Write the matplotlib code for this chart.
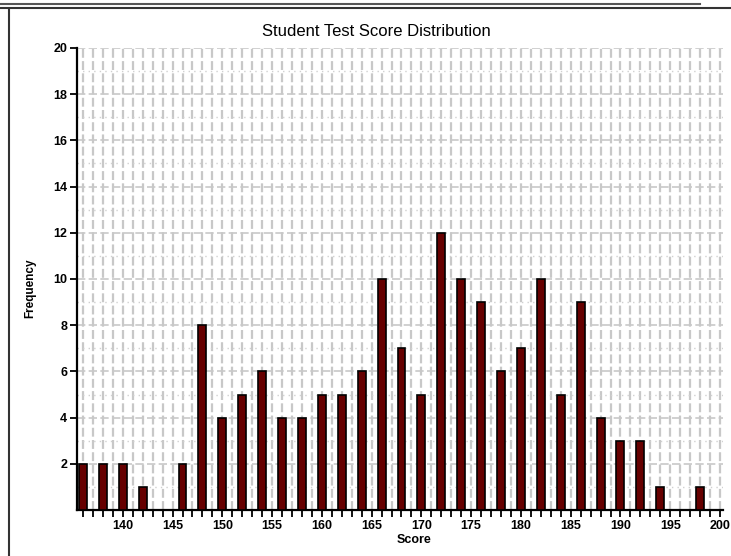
import numpy as np
import matplotlib
matplotlib.use('Agg')
import matplotlib.pyplot as plt
from matplotlib.lines import Line2D
from matplotlib.ticker import MultipleLocator

plt.rcParams['font.family'] = ['Liberation Sans', 'DejaVu Sans']

# ── Data ───────────────────────────────────────────────────────
scores = [136, 138, 140, 142, 144, 146, 148, 150, 152, 154, 156, 158,
          160, 162, 164, 166, 168, 170, 172, 174, 176, 178, 180, 182,
          184, 186, 188, 190, 192, 194, 196, 198]
frequency = [2, 2, 2, 1, 0, 2, 8, 4, 5, 6, 4, 4,
             5, 5, 6, 10, 7, 5, 12, 10, 9, 6, 7, 10,
             5, 9, 4, 3, 3, 1, 0, 1]
x_ticks = [140, 145, 150, 155, 160, 165, 170, 175, 180, 185, 190, 195, 200]
y_ticks = [2, 4, 6, 8, 10, 12, 14, 16, 18, 20]

# ── Plot ───────────────────────────────────────────────────────
fig = plt.figure(figsize=(7.31, 5.56), dpi=100)
ax = fig.add_axes([77 / 731, 46 / 556, 646 / 731, 462 / 556])

# grid: dashed verticals every unit, dashed horizontals at even, dotted at odd
for x in range(136, 201):
    ax.axvline(x, color='#c8c8c8', lw=1.6, ls=(0, (4, 1.5)), zorder=0)
for y in range(1, 21):
    if y % 2 == 0:
        ax.axhline(y, color='#c8c8c8', lw=1.2, ls=(0, (5, 2)), zorder=0)
    else:
        ax.axhline(y, color='#d0d0d0', lw=1.0, ls=(0, (1, 3)), zorder=0)

ax.bar(scores, frequency, width=0.8, color='#660000',
       edgecolor='black', linewidth=1.2, zorder=3)

ax.set_xlim(135.4, 200.3)
ax.set_ylim(0, 20)
ax.set_xticks(x_ticks)
ax.xaxis.set_minor_locator(MultipleLocator(1))
ax.set_yticks(y_ticks)

for s in ['top', 'right']:
    ax.spines[s].set_visible(False)
for s in ['left', 'bottom']:
    ax.spines[s].set_linewidth(1.6)

ax.tick_params(axis='both', which='both', direction='out', width=1.3,
               length=5, labelsize=9, pad=2)
for lab in ax.get_xticklabels() + ax.get_yticklabels():
    lab.set_fontweight('bold')

fig.text(376 / 731, 1 - 32 / 556, 'Student Test Score Distribution',
         fontsize=12, ha='center', va='center')
ax.set_xlabel('Score', fontsize=9, fontweight='bold')
ax.xaxis.set_label_coords((414 - 77) / 646, -30 / 462)
ax.xaxis.label.set_va('center')
ax.set_ylabel('Frequency', fontsize=8.5, fontweight='bold')
ax.yaxis.set_label_coords(-47 / 646, 0.48)
ax.yaxis.label.set_va('center')

# window-like frame lines
fig.add_artist(Line2D([0, 700 / 731], [1 - 4 / 556, 1 - 4 / 556],
                      transform=fig.transFigure, color='#555555', lw=1.5))
fig.add_artist(Line2D([0, 1], [1 - 8 / 556, 1 - 8 / 556],
                      transform=fig.transFigure, color='#333333', lw=1.5))
fig.add_artist(Line2D([9 / 731, 9 / 731], [0, 1 - 9 / 556],
                      transform=fig.transFigure, color='#333333', lw=1.5))

plt.savefig('out.png', dpi=100)
